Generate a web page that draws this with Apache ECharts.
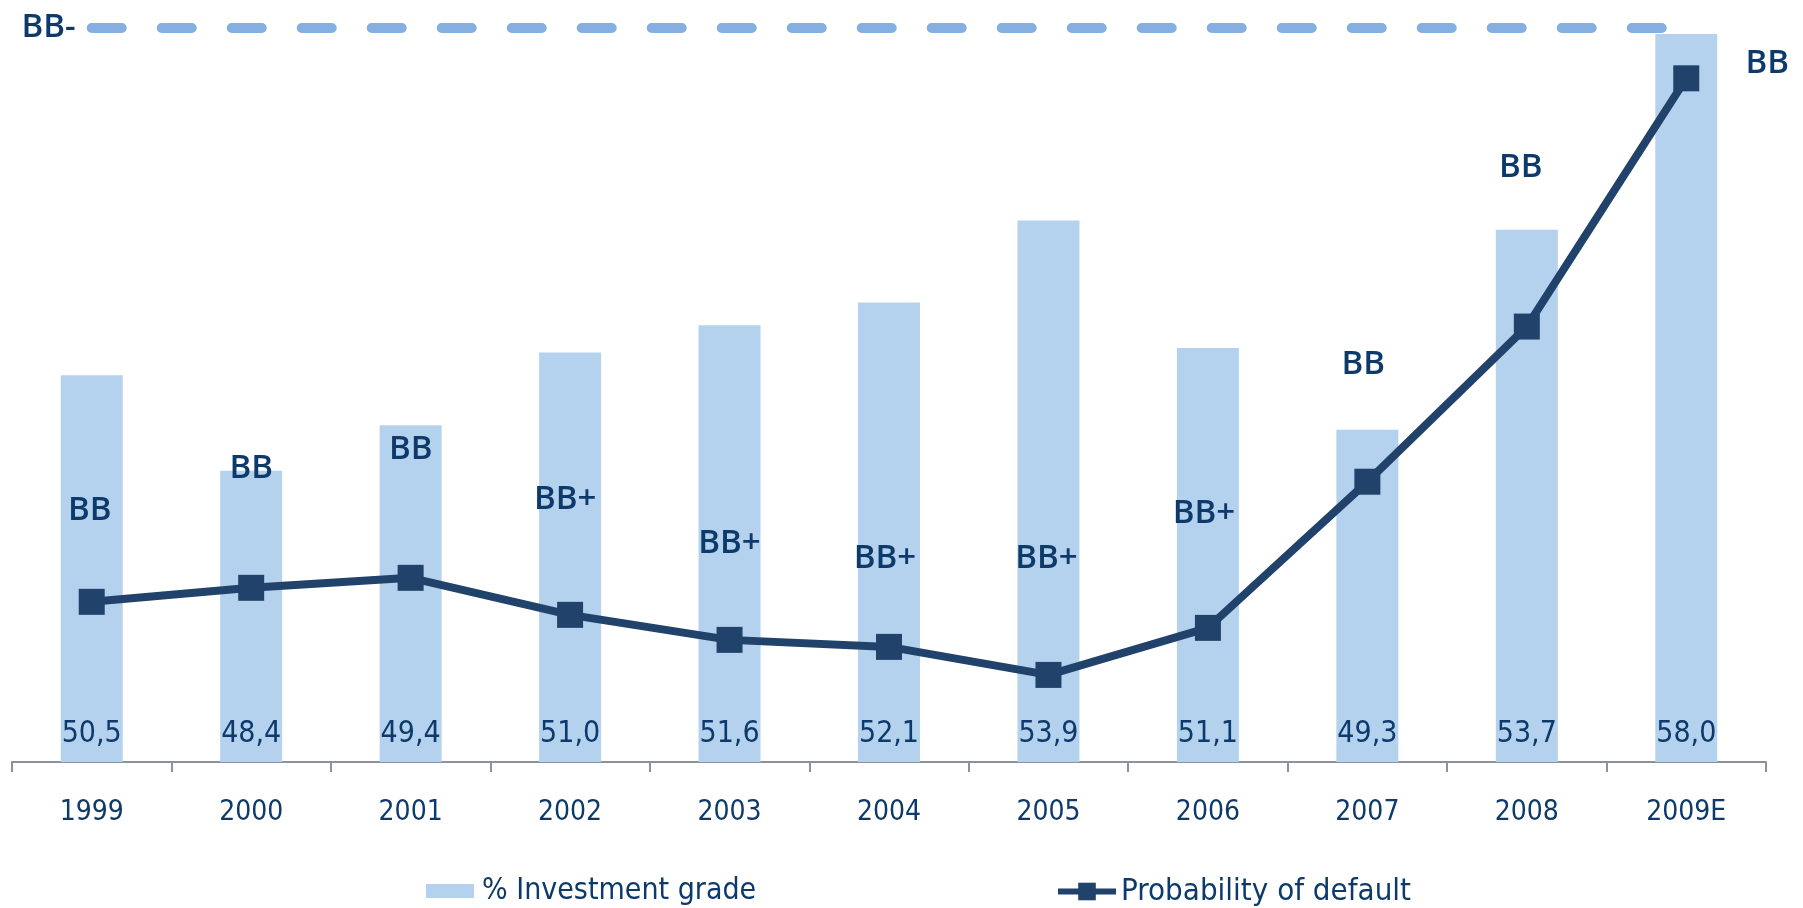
<!DOCTYPE html>
<html>
<head>
<meta charset="utf-8">
<script src="https://cdn.jsdelivr.net/npm/echarts@6/dist/echarts.min.js"></script>
<style>
html,body{margin:0;padding:0;background:#fff;}
#chart{width:1803px;height:908px;}
</style>
</head>
<body>
<div id="chart"></div>
<script>
// ---- data ----
const categories = ['1999','2000','2001','2002','2003','2004','2005','2006','2007','2008','2009E'];
const investmentGrade = [50.5, 48.4, 49.4, 51.0, 51.6, 52.1, 53.9, 51.1, 49.3, 53.7, 58.0];
const probabilityOfDefault = [1.60, 1.74, 1.84, 1.47, 1.22, 1.15, 0.87, 1.34, 2.80, 4.35, 6.83];
const ratings = ['BB','BB','BB','BB+','BB+','BB+','BB+','BB+','BB','BB','BB'];
const bbMinusLevel = 7.34;
const bbMinusLabel = 'BB-';

// ---- layout (label offsets, px) ----
const ratingOffsets = [[-2,-91],[0,-119],[0,-128],[-5,-115],[0,-96],[-4,-88],[-2,-116],[-4,-114],[-4,-117],[-6,-159],[81,-15]];

const navy = '#0d3a6b';
const lineColor = '#21426a';
const barColor = '#b4d2ee';
const dashColor = '#84afe0';
const condensed = '"DejaVu Sans Condensed", "DejaVu Sans", sans-serif';
const ratingFont = '"Open Sans", "Noto Sans", sans-serif';

const chart = echarts.init(document.getElementById('chart'), null, {renderer:'canvas'});

const lineData = probabilityOfDefault.map((v, i) => ({
  value: v,
  label: { offset: ratingOffsets[i] }
}));

chart.setOption({
  animation: false,
  backgroundColor: '#ffffff',
  grid: { left: 12, right: 37, top: 11.25, bottom: 146, containLabel: false },
  legend: [
    {
      left: 421, top: 871,
      itemWidth: 48, itemHeight: 14,
      data: [{ name: '% Investment grade', icon: 'rect' }],
      textStyle: { fontFamily: condensed, fontSize: 30, color: navy, padding: [0,0,0,3] }
    },
    {
      left: 1050, top: 871,
      itemWidth: 58, itemHeight: 22,
      lineStyle: { width: 6 },
      data: [{ name: 'Probability of default' }],
      textStyle: { fontFamily: condensed, fontSize: 31, color: navy, padding: [0,0,0,0] }
    }
  ],
  xAxis: {
    type: 'category',
    data: categories,
    axisLine: { lineStyle: { color: '#8c91a0', width: 2 } },
    axisTick: { show: true, length: 10, lineStyle: { color: '#8c91a0', width: 2 } },
    axisLabel: { fontFamily: condensed, fontSize: 28, color: navy, margin: 37 },
    splitLine: { show: false }
  },
  yAxis: [
    { type: 'value', min: 42, max: 58.5, show: false, splitLine: { show: false } },
    { type: 'value', min: 0, max: 7.5, show: false, splitLine: { show: false } }
  ],
  series: [
    {
      name: '% Investment grade',
      type: 'bar',
      yAxisIndex: 0,
      data: investmentGrade,
      barWidth: 62,
      itemStyle: { color: barColor },
      label: {
        show: true,
        position: 'insideBottom',
        distance: 13,
        fontFamily: condensed,
        fontSize: 30,
        color: navy,
        formatter: p => p.value.toFixed(1).replace('.', ',')
      },
      z: 2
    },
    {
      name: 'Probability of default',
      type: 'line',
      yAxisIndex: 1,
      data: lineData,
      symbol: 'rect',
      symbolSize: 26,
      itemStyle: { color: lineColor },
      lineStyle: { color: lineColor, width: 8 },
      label: {
        show: true,
        position: 'inside',
        formatter: p => ratings[p.dataIndex],
        fontFamily: ratingFont,
        fontWeight: 600,
        fontSize: 33,
        color: navy
      },
      markLine: {
        silent: true,
        symbol: ['none','none'],
        lineStyle: { color: dashColor, width: 10, type: [30, 40], cap: 'round' },
        label: {
          show: true,
          position: 'start',
          distance: 16,
          formatter: bbMinusLabel,
          fontFamily: ratingFont,
          fontWeight: 600,
          fontSize: 33,
          color: navy
        },
        data: [[
          { coord: [categories[0], bbMinusLevel] },
          { coord: [categories[categories.length - 1], bbMinusLevel] }
        ]]
      },
      z: 5
    }
  ]
});
</script>
</body>
</html>
